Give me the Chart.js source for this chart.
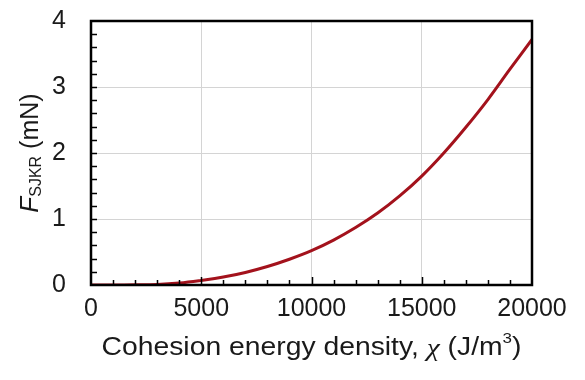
<!DOCTYPE html>
<html><head><meta charset="utf-8">
<script src="https://cdn.jsdelivr.net/npm/chart.js@4"></script>
<style>html,body{margin:0;padding:0;background:#fff}#wrap{width:585px;height:380px}</style>
</head><body><div id="wrap"><canvas id="c" width="585" height="380"></canvas></div>
<script>
const chiValues = [0,1000,2000,3000,4000,5000,6000,7000,8000,9000,10000,11000,12000,13000,14000,15000,16000,17000,18000,19000,20000];
const forceValues = [0,0,0.002,0.008,0.03,0.07,0.12,0.19,0.28,0.39,0.52,0.68,0.87,1.09,1.35,1.65,2.0,2.39,2.81,3.27,3.72];
const xTicks = [0,5000,10000,15000,20000];
const yTicks = [0,1,2,3,4];
const FONT = '"Liberation Sans", Arial, sans-serif';
const TXT = '#1a1a1a';

const framePlugin = {
  id: 'frame',
  afterDatasetsDraw(chart) {
    const {ctx, chartArea: a, scales: {x, y}} = chart;
    ctx.save();
    ctx.strokeStyle = '#000';
    ctx.lineWidth = 1.5;
    ctx.beginPath();
    for (let v = 1000; v < 20000; v += 1000) {
      const px = Math.round(x.getPixelForValue(v)) + 0.5;
      const len = v % 5000 === 0 ? 8 : 5;
      ctx.moveTo(px, a.bottom); ctx.lineTo(px, a.bottom - len);
    }
    for (let v = 0.2; v < 4; v += 0.2) {
      const py = Math.round(y.getPixelForValue(v)) + 0.5;
      ctx.moveTo(a.left, py); ctx.lineTo(a.left + 6, py);
    }
    ctx.stroke();
    ctx.lineWidth = 2.5;
    ctx.strokeRect(a.left, a.top, a.right - a.left, a.bottom - a.top);
    ctx.fillStyle = TXT;
    ctx.textBaseline = 'middle';
    ctx.textAlign = 'left';
    const parts = [
      {t: 'Cohesion energy density, ', f: '25px ' + FONT, dy: 0},
      {t: 'χ', f: 'italic 26px "Liberation Serif", serif', dy: 1},
      {t: ' (J/m', f: '25px ' + FONT, dy: 0},
      {t: '3', f: '15px ' + FONT, dy: -9},
      {t: ')', f: '25px ' + FONT, dy: 0}
    ];
    let w = 0;
    parts.forEach(p => { ctx.font = p.f; p.w = ctx.measureText(p.t).width; w += p.w; });
    const sx = 420 / w;
    ctx.save();
    ctx.translate((a.left + a.right) / 2, 348);
    ctx.scale(sx, 1);
    let cx = -w / 2;
    parts.forEach(p => { ctx.font = p.f; ctx.fillText(p.t, cx, p.dy); cx += p.w; });
    ctx.restore();
    ctx.translate(31, (a.top + a.bottom) / 2);
    ctx.rotate(-Math.PI / 2);
    const yp = [
      {t: 'F', f: 'italic 26px ' + FONT, dy: 0},
      {t: 'SJKR', f: '16px ' + FONT, dy: 6},
      {t: ' (mN)', f: '25px ' + FONT, dy: 0}
    ];
    w = 0;
    yp.forEach(p => { ctx.font = p.f; p.w = ctx.measureText(p.t).width; w += p.w; });
    cx = -w / 2;
    yp.forEach(p => { ctx.font = p.f; ctx.fillText(p.t, cx, p.dy); cx += p.w; });
    ctx.restore();
  }
};

new Chart(document.getElementById('c'), {
  type: 'line',
  data: {
    datasets: [{
      data: chiValues.map((v, i) => ({x: v, y: forceValues[i]})),
      borderColor: '#a3121c',
      borderWidth: 3,
      pointRadius: 0,
      tension: 0.4,
      fill: false
    }]
  },
  options: {
    responsive: false,
    animation: false,
    layout: {padding: {top: 21, right: 53, left: 0, bottom: 0}},
    plugins: {legend: {display: false}, tooltip: {enabled: false}},
    scales: {
      x: {
        type: 'linear', min: 0, max: 20000,
        afterBuildTicks: s => { s.ticks = xTicks.map(v => ({value: v})); },
        afterFit: s => { s.height = 95; s.paddingLeft = 0; s.paddingRight = 0; },
        ticks: {color: TXT, font: {family: FONT, size: 25}, padding: 9, maxRotation: 0, autoSkip: false,
                callback: v => String(v)},
        grid: {color: '#d4d4d4', lineWidth: 1, drawTicks: false},
        border: {display: false}
      },
      y: {
        min: 0, max: 4,
        afterBuildTicks: s => { s.ticks = yTicks.map(v => ({value: v})); },
        afterFit: s => { s.width = 91; s.paddingTop = 0; s.paddingBottom = 0; },
        ticks: {color: TXT, font: {family: FONT, size: 25}, padding: 25, callback: v => String(v)},
        grid: {color: '#d4d4d4', lineWidth: 1, drawTicks: false},
        border: {display: false}
      }
    }
  },
  plugins: [framePlugin]
});
</script>
</body></html>
